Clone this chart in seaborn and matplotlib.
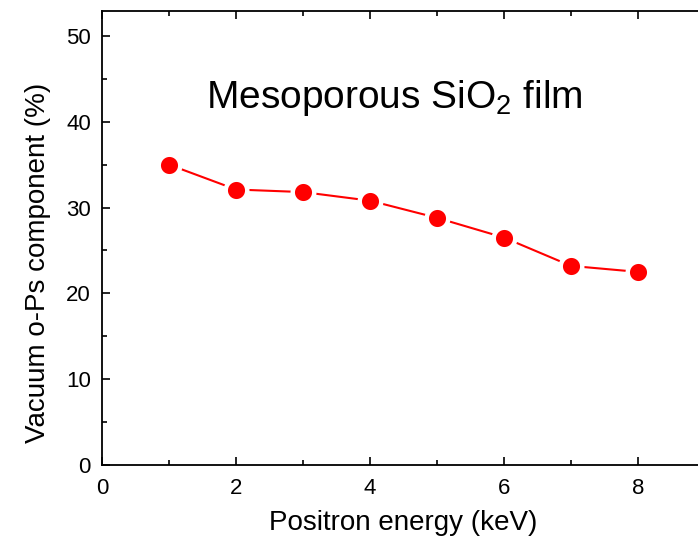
import matplotlib
matplotlib.use("Agg")
import matplotlib.pyplot as plt
import seaborn as sns
import pandas as pd

# positron implantation energy (keV) vs vacuum o-Ps fraction (%)
energy = [1, 2, 3, 4, 5, 6, 7, 8]
vacuum_ops = [35.0, 32.1, 31.8, 30.8, 28.8, 26.5, 23.2, 22.5]
x_ticks = [0, 2, 4, 6, 8]
y_ticks = [0, 10, 20, 30, 40, 50]

df = pd.DataFrame({"energy": energy, "vacuum_ops": vacuum_ops})

sns.set_style("ticks")
plt.rcParams["font.family"] = ["Liberation Sans", "DejaVu Sans"]
plt.rcParams["text.color"] = "black"
plt.rcParams["axes.labelcolor"] = "black"
plt.rcParams["xtick.color"] = "black"
plt.rcParams["ytick.color"] = "black"
plt.rcParams["mathtext.fontset"] = "custom"
plt.rcParams["mathtext.rm"] = "Liberation Sans"

fig = plt.figure(figsize=(6.98, 5.44), dpi=100)
# right spine sits just outside the picture, as in the cropped original
ax = fig.add_axes([102 / 698, 79 / 544, 603 / 698, 454 / 544])

sns.lineplot(data=df, x="energy", y="vacuum_ops", ax=ax, color="red",
             linewidth=1.5, marker="o", markersize=15.5,
             markerfacecolor="red", markeredgecolor="white",
             markeredgewidth=3.2)

ax.set_xlim(0, 9)
ax.set_ylim(0, 52.9)
ax.set_xticks(x_ticks)
ax.set_yticks(y_ticks)
ax.set_xticks([1, 3, 5, 7], minor=True)
ax.set_yticks([5, 15, 25, 35, 45], minor=True)
ax.tick_params(which="both", direction="in", top=True, right=False,
               width=1.2, labelsize=16)
ax.tick_params(axis="x", which="both", pad=9)
ax.tick_params(axis="y", which="both", pad=8)
ax.tick_params(which="major", length=6)
ax.tick_params(which="minor", length=3.5)
for s in ax.spines.values():
    s.set_linewidth(1.3)
    s.set_color("black")

ax.set_xlabel("Positron energy (keV)", fontsize=20, labelpad=8.5)
ax.set_ylabel("Vacuum o-Ps component (%)", fontsize=20)
ax.yaxis.set_label_coords(-0.085, 0.445)
ax.text(0.485, 0.786, "Mesoporous SiO$_\\mathrm{2}$ film", transform=ax.transAxes,
        ha="center", va="baseline", fontsize=28)

fig.savefig("out.png", dpi=100)
